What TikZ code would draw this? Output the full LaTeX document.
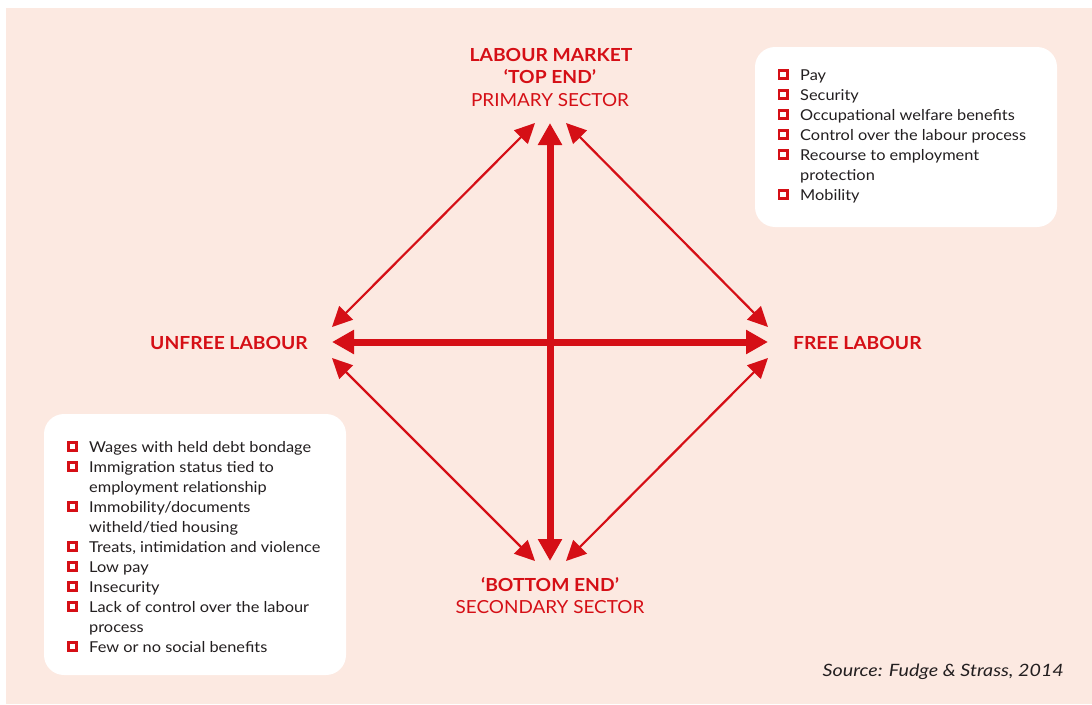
\documentclass[tikz,border=0pt]{standalone}
\usepackage{fontspec}
\setmainfont{Lato}
\newfontfamily\itemfont[FakeStretch=1.09]{Lato}
\newfontfamily\hdfont[FakeStretch=1.07]{Lato}
\newfontfamily\subfont[FakeStretch=1.05]{Lato}
\newfontfamily\srcfont[FakeStretch=1.16]{Lato}
\usetikzlibrary{arrows.meta}
\definecolor{bg}{HTML}{FCE9E1}
\definecolor{rd}{HTML}{D50F16}
\definecolor{tx}{HTML}{231F20}
\tikzset{
  thickarr/.style={draw=rd, line width=7pt, {Triangle[length=22pt,width=23pt]}-{Triangle[length=22pt,width=23pt]}},
  thinarr/.style={draw=rd, line width=2.2pt, {Triangle[length=20pt,width=19pt]}-{Triangle[length=20pt,width=19pt]}},
  hd/.style={text=rd, font=\hdfont\fontsize{18}{20}\selectfont\bfseries, inner sep=0pt, anchor=base},
  subhd/.style={text=rd, font=\subfont\fontsize{18}{20}\selectfont, inner sep=0pt, anchor=base},
  infobox/.style={fill=white, rounded corners=20pt, draw=none, inner sep=0pt},
  bul/.style={draw=rd, line width=2.7pt, fill=white, minimum size=8.3pt, inner sep=0pt},
  itemtxt/.style={text=tx, font=\itemfont\fontsize{15}{17}\selectfont, anchor=base west, inner sep=0pt},
  srctxt/.style={text=tx, font=\srcfont\fontsize{17}{19}\selectfont\itshape, anchor=base east, inner sep=0pt},
}
\begin{document}
\begin{tikzpicture}[x=1pt,y=-1pt]
\useasboundingbox (0,0) rectangle (1092,704);
\fill[bg] (6,8) rectangle (1092,704);

% info boxes
\node[infobox, minimum width=302pt, minimum height=180pt] (rbox) at (906,137) {};
\node[infobox, minimum width=302pt, minimum height=261pt] (lbox) at (195,544.5) {};

% headings
\node[hd] (top1) at (551,61) {LABOUR MARKET};
\node[hd] (top2) at (550,83) {‘TOP END’};
\node[subhd] (top3) at (550,106) {PRIMARY SECTOR};
\node[hd] (bot1) at (550,591) {‘BOTTOM END’};
\node[subhd] (bot2) at (550,613) {SECONDARY SECTOR};
\node[hd, anchor=base east] (unfree) at (308,349.5) {UNFREE LABOUR};
\node[hd, anchor=base west] (free) at (793,349.5) {FREE LABOUR};

% arrow tips
\coordinate (vN) at (550,123);
\coordinate (vS) at (550,561);
\coordinate (hW) at (332,342);
\coordinate (hE) at (768,342);
\coordinate (nwN) at (535,123);
\coordinate (nwW) at (332,327);
\coordinate (neN) at (566,123);
\coordinate (neE) at (768,327);
\coordinate (swS) at (535,561);
\coordinate (swW) at (332,358);
\coordinate (seS) at (566,561);
\coordinate (seE) at (768,358);

\draw[thinarr] (nwW) -- (nwN);
\draw[thinarr] (neE) -- (neN);
\draw[thinarr] (swW) -- (swS);
\draw[thinarr] (seE) -- (seS);
\draw[thickarr] (vS) -- (vN);
\draw[thickarr] (hW) -- (hE);

% right list
\foreach \t/\b [count=\i] in {Pay/1, Security/1, Occupational welfare benefits/1, Control over the labour process/1, Recourse to employment/1, protection/0, Mobility/1}{
  \node[itemtxt] (r\i) at (800,{80+20*(\i-1)}) {\t};
  \ifnum\b=1 \node[bul] (rb\i) at (783,{74.5+20*(\i-1)}) {};\fi
}
% left list
\foreach \t/\b [count=\i] in {Wages with held debt bondage/1, Immigration status tied to/1, employment relationship/0, {Immobility/documents}/1, {witheld/tied housing}/0, {Treats, intimidation and violence}/1, Low pay/1, Insecurity/1, Lack of control over the labour/1, process/0, Few or no social benefits/1}{
  \node[itemtxt] (l\i) at (89,{452+20*(\i-1)}) {\t};
  \ifnum\b=1 \node[bul] (lb\i) at (72.5,{446.5+20*(\i-1)}) {};\fi
}

\node[srctxt] (src) at (1064,676) {Source: Fudge \& Strass, 2014};
\end{tikzpicture}
\end{document}
